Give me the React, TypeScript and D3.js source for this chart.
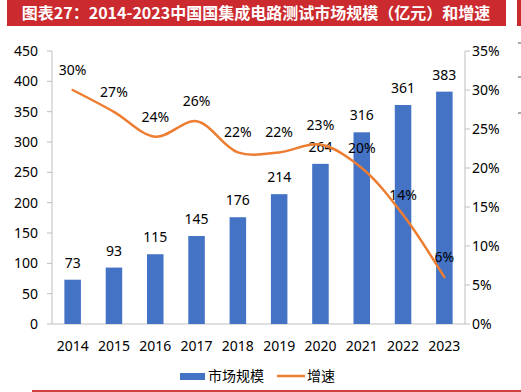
import React from "react";
import * as d3 from "d3";

const years = ["2014","2015","2016","2017","2018","2019","2020","2021","2022","2023"];
const marketSize = [73, 93, 115, 145, 176, 214, 264, 316, 361, 383];
const growth = [0.30, 0.272, 0.24, 0.26, 0.22, 0.22, 0.23, 0.20, 0.14, 0.06];
const growthLabels = ["30%","27%","24%","26%","22%","22%","23%","20%","14%","6%"];
const leftTicks = [0, 50, 100, 150, 200, 250, 300, 350, 400, 450];
const rightTicks = [0, 0.05, 0.10, 0.15, 0.20, 0.25, 0.30, 0.35];
const title = "图表27：2014-2023中国国集成电路测试市场规模（亿元）和增速";
const legendLabels = ["市场规模", "增速"];

const W = 521, H = 392;
const FONT = "'Noto Sans', 'Noto Sans CJK SC', sans-serif";
const BLUE = "#4472C4";
const ORANGE = "#ED7D31";
const RED = "#CB2A2F";
const AXIS = "#BFBFBF";

export default function App() {
  const x0 = 52, x1 = 465, yTop = 51, yBot = 324;
  const x = d3.scaleBand<string>().domain(years).range([x0, x1]).paddingInner(0.6).paddingOuter(0.3);
  const yL = d3.scaleLinear().domain([0, 450]).range([yBot, yTop]);
  const yR = d3.scaleLinear().domain([0, 0.35]).range([yBot, yTop]);
  const cx = (y: string) => (x(y) as number) + x.bandwidth() / 2;
  const line = d3.line<number>()
    .x((_, i) => cx(years[i]))
    .y((d) => yR(d))
    .curve(d3.curveCatmullRom.alpha(0.5));
  return (
    <svg width={W} height={H} style={{ position: "absolute", left: 0, top: 0 }} fontFamily={FONT}>
      <rect x={0} y={0} width={W} height={H} fill="#fff" />
      <rect x={7} y={0} width={499} height={26} fill={RED} />
      <rect x={517} y={0} width={4} height={26} fill={RED} />
      <text x={256} y={19} textAnchor="middle" fill="#fff" fontSize={16} fontWeight="bold" fontFamily="'Noto Sans CJK SC', sans-serif">{title}</text>
      {[43, 77, 113].map((yy) => (
        <line key={yy} x1={518} x2={521} y1={yy} y2={yy} stroke="#555" strokeWidth={1} />
      ))}
      {/* left axis */}
      <line x1={x0} x2={x0} y1={yTop} y2={yBot} stroke={AXIS} />
      {leftTicks.map((t) => (
        <g key={t}>
          <line x1={x0 - 5} x2={x0} y1={yL(t)} y2={yL(t)} stroke={AXIS} />
          <text x={38} y={yL(t) + 5} textAnchor="end" fontSize={14} fill="#000">{t}</text>
        </g>
      ))}
      {/* right axis */}
      <line x1={x1} x2={x1} y1={yTop} y2={yBot} stroke={AXIS} />
      {rightTicks.map((t) => (
        <g key={t}>
          <line x1={x1} x2={x1 + 5} y1={yR(t)} y2={yR(t)} stroke={AXIS} />
          <text x={472} y={yR(t) + 5} textAnchor="start" fontSize={14} fill="#000">{Math.round(t * 100) + "%"}</text>
        </g>
      ))}
      {/* bottom axis */}
      <line x1={x0} x2={x1} y1={yBot} y2={yBot} stroke={AXIS} />
      {years.map((yr) => (
        <text key={yr} x={cx(yr)} y={351} textAnchor="middle" fontSize={14} fill="#000">{yr}</text>
      ))}
      {/* bars */}
      {marketSize.map((v, i) => (
        <rect key={i} x={x(years[i])} y={yL(v)} width={x.bandwidth()} height={yBot - yL(v)} fill={BLUE} />
      ))}
      {marketSize.map((v, i) => (
        <text key={i} x={cx(years[i])} y={yL(v) - 12} textAnchor="middle" fontSize={14} fill="#000">{v}</text>
      ))}
      {/* line */}
      <path d={line(growth) || ""} fill="none" stroke={ORANGE} strokeWidth={2.5} strokeLinecap="round" />
      {growth.map((g, i) => (
        <text key={i} x={cx(years[i])} y={yR(g) - 15} textAnchor="middle" fontSize={14} fill="#000">{growthLabels[i]}</text>
      ))}
      {/* legend */}
      <rect x={180} y={373} width={25} height={7} fill={BLUE} />
      <text x={208} y={381} fontSize={14} fill="#000" fontFamily="'Noto Sans CJK SC', sans-serif">{legendLabels[0]}</text>
      <line x1={277} x2={305} y1={376} y2={376} stroke={ORANGE} strokeWidth={2.5} />
      <text x={307} y={381} fontSize={14} fill="#000" fontFamily="'Noto Sans CJK SC', sans-serif">{legendLabels[1]}</text>
      <line x1={32} x2={521} y1={391} y2={391} stroke="#C00000" strokeWidth={1.5} />
    </svg>
  );
}
